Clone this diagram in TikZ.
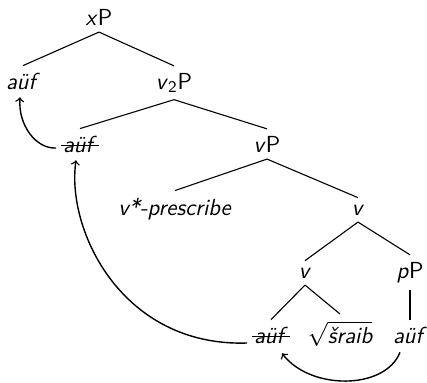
\documentclass[tikz,border=0pt]{standalone}
\usetikzlibrary{calc}

% struck-through (copy) form of a word
\newcommand{\strk}[1]{{\setbox0\hbox{#1}\kern-1pt\rlap{\rule[0.26em]{\dimexpr\wd0+2pt\relax}{0.55pt}}\kern1pt\box0}}

\begin{document}
\begin{tikzpicture}[x=0.5pt,y=-0.5pt,
  lbl/.style={anchor=base, inner sep=0.3333em,
    font=\fontsize{11.6}{14}\selectfont\sffamily},
  branch/.style={line width=0.55pt},
  move/.style={->, line width=0.7pt}]
\useasboundingbox (0,0) rectangle (427,382);

% tree nodes
\node[lbl] (xP)    at (99,25)  {\textit{x}P};
\node[lbl] (aufA)  at (23,89)  {\textit{aüf}};
\node[lbl] (v2P)   at (174,89) {\textit{v}\textsubscript{2}P};
\node[lbl] (aufB)  at (80,152) {\strk{\textit{aüf}}};
\node[lbl] (vP)    at (267,152){\textit{v}P};
\node[lbl] (presc) at (175,215){\textit{v*-prescribe}};
\node[lbl] (vA)    at (358,215){\textit{v}};
\node[lbl] (vB)    at (305,278){\textit{v}};
\node[lbl] (pP)    at (410,278){\textit{p}P};
\node[lbl] (aufC)  at (271,343){\strk{\textit{aüf}}};
\node[lbl] (root)  at (340,343){$\sqrt{\mbox{\sffamily\itshape šraib}}$};
\node[lbl] (aufD)  at (410,343){\textit{aüf}};

% branches
\draw[branch] (xP.south) -- (aufA.north);
\draw[branch] (xP.south) -- (v2P.north);
\draw[branch] (v2P.south) -- (aufB.north);
\draw[branch] (v2P.south) -- (vP.north);
\draw[branch] (vP.south) -- (presc.north);
\draw[branch] (vP.south) -- (vA.north);
\draw[branch] (vA.south) -- (vB.north);
\draw[branch] (vA.south) -- (pP.north);
\draw[branch] (vB.south) -- (aufC.north);
\draw[branch] (vB.south) -- (root.north);
\draw[branch] (pP.south) -- (aufD.north);

% movement arrows
\draw[move] ($(aufD.south)+(-10,2)$) .. controls +(-15,38) and +(28,37) .. ($(aufC.south)+(11,3)$);
\draw[move] (aufC.base west) .. controls +(-125,4) and +(-10,70) .. ($(aufB.south)+(-4,1)$);
\draw[move] ($(aufB.base west)+(0,-4)$) .. controls +(-20,1) and +(-2,28) .. ($(aufA.south)+(-3,1)$);
\end{tikzpicture}
\end{document}
